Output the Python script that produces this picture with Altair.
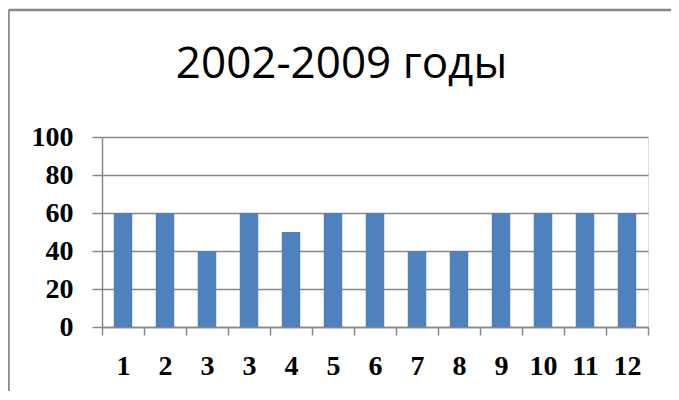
import json
import altair as alt
import pandas as pd

# Data
labels = ["1", "2", "3", "3", "4", "5", "6", "7", "8", "9", "10", "11", "12"]
values = [60, 60, 40, 60, 50, 60, 60, 40, 40, 60, 60, 60, 60]
y_ticks = [0, 20, 40, 60, 80, 100]
title_text = "2002-2009 годы"

df = pd.DataFrame({"idx": list(range(len(labels))), "label": labels, "value": values})

W, H = 546, 190
PAD_L, PAD_T = 94, 129
GRAY = "#888888"
BLUE = "#4F81BD"
LABEL_FONT = "Liberation Serif"

label_expr = json.dumps(labels) + "[datum.value]"

base = alt.Chart(df)

bars = base.mark_bar(color=BLUE, width={"band": 0.44}).encode(
    x=alt.X(
        "idx:O",
        scale=alt.Scale(paddingInner=0, paddingOuter=0),
        axis=alt.Axis(
            title=None,
            labelExpr=label_expr,
            labelAngle=0,
            tickBand="extent",
            ticks=True,
            tickSize=8,
            tickColor=GRAY,
            tickWidth=1.5,
            domainColor=GRAY,
            domainWidth=1.5,
            grid=False,
            labelFont=LABEL_FONT,
            labelFontWeight="bold",
            labelFontSize=28,
            labelColor="#000000",
            labelPadding=17,
            labelBaseline="top",
        ),
    ),
    y=alt.Y(
        "value:Q",
        scale=alt.Scale(domain=[0, 100]),
        axis=alt.Axis(
            title=None,
            values=y_ticks,
            tickSize=10,
            tickColor=GRAY,
            tickWidth=1.5,
            domainColor=GRAY,
            domainWidth=1.5,
            gridColor=GRAY,
            gridWidth=1.5,
            gridOpacity=1,
            labelFont=LABEL_FONT,
            labelFontWeight="bold",
            labelFontSize=28,
            labelColor="#000000",
            labelPadding=19,
        ),
    ),
)

one = pd.DataFrame({"t": [title_text]})

frame_top = alt.Chart(one).mark_rule(color=GRAY, strokeWidth=2.5).encode(
    x=alt.value(-PAD_L + 0.5),
    x2=alt.value(W + 100),
    y=alt.value(-PAD_T + 2),
)
frame_left = alt.Chart(one).mark_rule(color=GRAY, strokeWidth=2.5).encode(
    x=alt.value(-PAD_L + 0.5),
    y=alt.value(-PAD_T + 2),
    y2=alt.value(H + 100),
)

title = alt.Chart(one).mark_text(
    font="Open Sans",
    fontSize=44,
    color="#000000",
    align="center",
    baseline="alphabetic",
).encode(
    text="t:N",
    x=alt.value(239.5),
    y=alt.value(-59),
)

chart = (
    alt.layer(frame_top, frame_left, bars, title)
    .properties(
        width=W,
        height=H,
        autosize=alt.AutoSizeParams(type="none"),
        padding={"left": PAD_L, "top": PAD_T, "right": 23, "bottom": 64},
    )
    .configure_view(stroke=None)
    .configure(background="white")
)

chart.save("out.html", embed_options={"renderer": "svg", "actions": False})
